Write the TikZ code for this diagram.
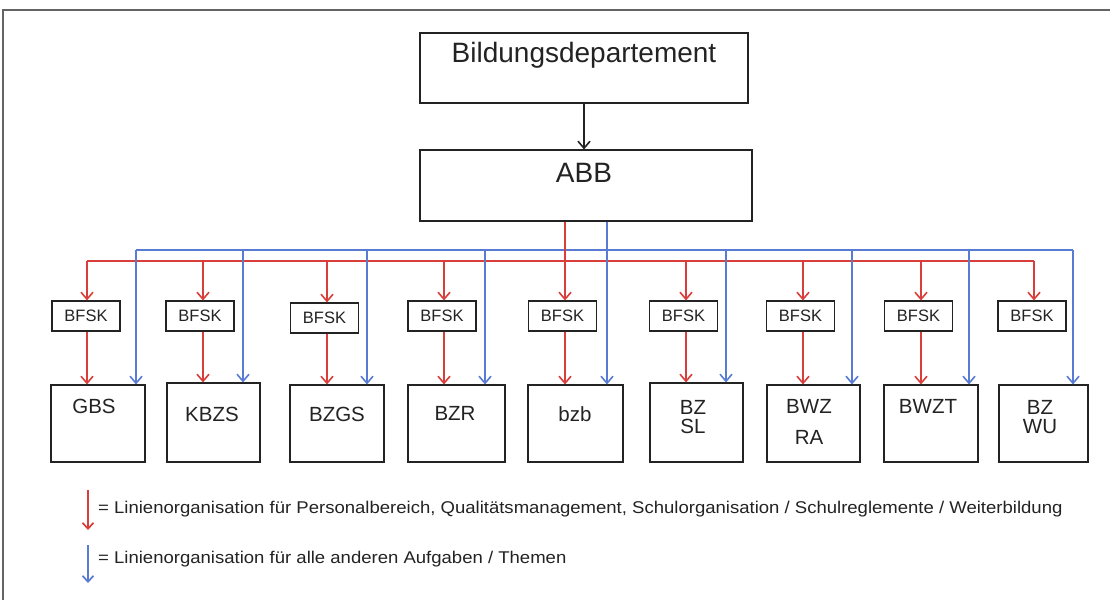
\documentclass[tikz,border=0pt]{standalone}
\usepackage{fontspec}
\setmainfont{Liberation Sans}
\newfontfamily\legfont[FakeStretch=1.09]{Liberation Sans}
\usetikzlibrary{arrows.meta}
\definecolor{lred}{RGB}{218,62,58}
\definecolor{lblue}{RGB}{88,124,212}
\definecolor{framec}{RGB}{100,100,100}
\definecolor{ink}{RGB}{35,35,35}
\begin{document}
\begin{tikzpicture}[x=1pt,y=-1pt,
  box/.style={draw=ink, line width=1.1pt, inner sep=0pt, fill=white},
  lab/.style={inner sep=0pt, text=ink, font=\fontsize{20.5}{19}\selectfont, align=center},
  bfsk/.style={box, minimum width=68pt, minimum height=30pt, text=ink, font=\fontsize{16.5}{17}\selectfont},
  tip/.style={-{Straight Barb[length=7pt,width=12pt,line width=1.6pt]}},
  redln/.style={draw=lred, line width=1.5pt},
  blueln/.style={draw=lblue, line width=1.5pt},
  legtxt/.style={inner sep=0pt, anchor=west, text=ink, font=\legfont\fontsize{17}{19}\selectfont}]
\useasboundingbox (0,0) rectangle (1110,600);
\fill[white] (0,0) rectangle (1110,600);
\draw[framec, line width=1.5pt] (3,600) -- (3,10) -- (1110,10);

% top boxes
\node[box, minimum width=328pt, minimum height=70pt] (bd) at (584,68) {};
\node[inner sep=0pt, text=ink, font=\fontsize{28}{30}\selectfont] (bdT) at (584,55) {Bildungsdepartement};
\node[box, minimum width=332pt, minimum height=71pt] (abb) at (586,185.5) {};
\node[inner sep=0pt, text=ink, font=\fontsize{28}{30}\selectfont] (abbT) at (584,173) {ABB};
\draw[ink, line width=1.4pt, tip] (bd.south) -- (bd.south |- abb.north);

% units: index / bfsk centre x / bfsk centre y / red x / blue x / box left / box right / box top / label / label x / label y / baselineskip
\foreach \i/\fx/\fy/\rx/\bx/\sl/\sr/\st/\txt/\tx/\ty/\bs in {
  1/86/316/87/136/51/145/385/GBS/94/406/19,
  2/200/316/203/243/167/260/383/KBZS/212/414/19,
  3/324.5/318/327/367/290/384/385/BZGS/337/414/19,
  4/442/316/444/485/408/505/385/BZR/455/413/19,
  5/562.5/316/565/607/528/623/385/bzb/575/414/19,
  6/683.5/316/686/726/650/743/383/BZ\\SL/693/417/19,
  7/800.5/316/803/852/767/860/385/BWZ\\RA/809/421.5/31,
  8/918.5/316/921/969/884/978/385/BWZT/928/406/19,
  9/1032/316/1034/1073/999/1088/385/BZ\\WU/1040/417/19}{
  \node[bfsk] (f\i) at (\fx,\fy) {BFSK};
  \node[box, minimum width={\sr-\sl}, minimum height={462-\st}] (s\i) at ({(\sl+\sr)/2},{(\st+462)/2}) {};
  \node[lab, font=\fontsize{20.5}{\bs}\selectfont] (t\i) at (\tx,\ty) {\txt};
  \coordinate (r\i) at (\rx,261);
  \coordinate (b\i) at (\bx,250);
}

% horizontal distribution lines
\draw[blueln] (abb.south -| b5) -- (b5);
\draw[blueln] (b1) -- (b9);
\draw[redln] (abb.south -| r5) -- (r5);
\draw[redln] (r1) -- (r9);

\foreach \i in {1,...,9}{
  \draw[redln, tip] (r\i) -- (r\i |- f\i.north);
  \draw[blueln, tip] (b\i) -- (b\i |- s\i.north);
}
\foreach \i in {1,...,8}{
  \draw[redln, tip] (f\i.south -| r\i) -- (r\i |- s\i.north);
}

% legend
\coordinate (lr1) at (88,490);
\coordinate (lr2) at (88,530);
\coordinate (lb1) at (88,545);
\coordinate (lb2) at (88,583);
\draw[lred, line width=1.2pt, -{Straight Barb[length=6pt,width=11pt,line width=1.7pt]}] (lr1) -- (lr2);
\draw[lblue, line width=1.2pt, -{Straight Barb[length=6pt,width=11pt,line width=1.7pt]}] (lb1) -- (lb2);
\node[legtxt] (leg1) at (98,509) {= Linienorganisation für Personalbereich, Qualitätsmanagement, Schulorganisation / Schulreglemente / Weiterbildung};
\node[legtxt] (leg2) at (98,559) {= Linienorganisation für alle anderen Aufgaben / Themen};
\end{tikzpicture}
\end{document}
